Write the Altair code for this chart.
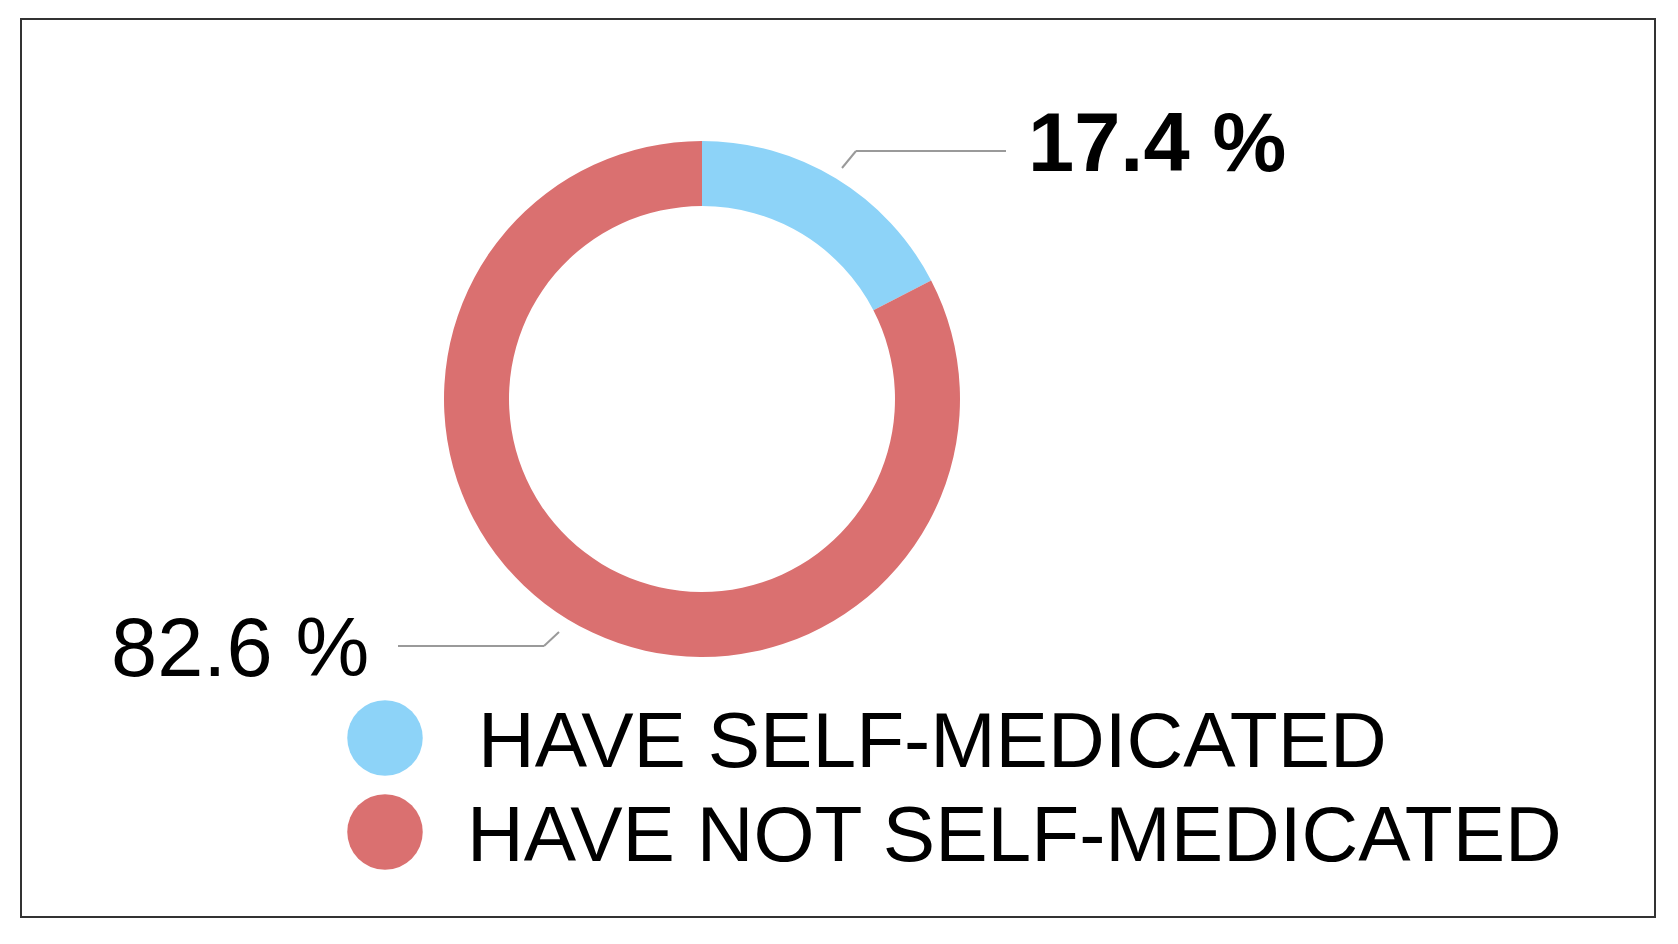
import altair as alt
import pandas as pd

categories = ["HAVE SELF-MEDICATED", "HAVE NOT SELF-MEDICATED"]
shares = [17.4, 82.6]
pct_labels = ["17.4 %", "82.6 %"]
colors = ["#8DD3F8", "#DA7070"]
orders = [0, 1]

df = pd.DataFrame({"category": categories, "share": shares,
                   "label": pct_labels, "order": orders})

FONT = "Liberation Sans"
color = alt.Color("category:N", scale=alt.Scale(domain=categories, range=colors), legend=None)
base = alt.Chart(df)

donut = base.mark_arc(innerRadius=193, outerRadius=258).encode(
    theta=alt.Theta("share:Q", stack=True),
    color=color,
    order=alt.Order("order:Q"),
    x=alt.value(681),
    y=alt.value(380),
)

first = base.transform_filter(alt.datum.category == categories[0])
second = base.transform_filter(alt.datum.category == categories[1])

label_top = first.mark_text(align="left", baseline="alphabetic", fontSize=83,
                            fontWeight="bold", font=FONT, color="black").encode(
    text="label:N", x=alt.value(1007), y=alt.value(152))
label_bottom = second.mark_text(align="left", baseline="alphabetic", fontSize=83,
                                font=FONT, color="black").encode(
    text="label:N", x=alt.value(90), y=alt.value(657))

lc = "#9a9a9a"
lead1 = first.mark_rule(color=lc, strokeWidth=2).encode(
    x=alt.value(835), x2=alt.value(985), y=alt.value(132), y2=alt.value(132))
lead2 = first.mark_rule(color=lc, strokeWidth=2).encode(
    x=alt.value(835), x2=alt.value(821), y=alt.value(132), y2=alt.value(149))
lead3 = second.mark_rule(color=lc, strokeWidth=2).encode(
    x=alt.value(377), x2=alt.value(523), y=alt.value(627), y2=alt.value(627))
lead4 = second.mark_rule(color=lc, strokeWidth=2).encode(
    x=alt.value(523), x2=alt.value(538), y=alt.value(627), y2=alt.value(613))

ly = alt.Y("order:Q", scale=alt.Scale(domain=[0, 1], range=[719, 813]), axis=None)

legend_pts = base.mark_point(filled=True, shape="circle", size=5700, opacity=1).encode(
    x=alt.value(364), y=ly, color=color)
legend_txt = base.mark_text(align="left", baseline="alphabetic", dy=29, fontSize=78.5,
                            font=FONT, color="black").encode(
    x=alt.X("order:Q", scale=alt.Scale(domain=[0, 1], range=[457, 446]), axis=None),
    y=ly, text="category:N")

chart = alt.layer(donut, lead1, lead2, lead3, lead4, label_top, label_bottom,
                  legend_pts, legend_txt).properties(
    width=1634, height=898,
    autosize=alt.AutoSizeParams(type="none"),
    padding={"left": 13, "top": 11, "right": 8, "bottom": 8},
    background="white",
).configure_view(stroke="#333333", strokeWidth=2)

chart.save("out.html", embed_options={"renderer": "svg", "actions": False})
